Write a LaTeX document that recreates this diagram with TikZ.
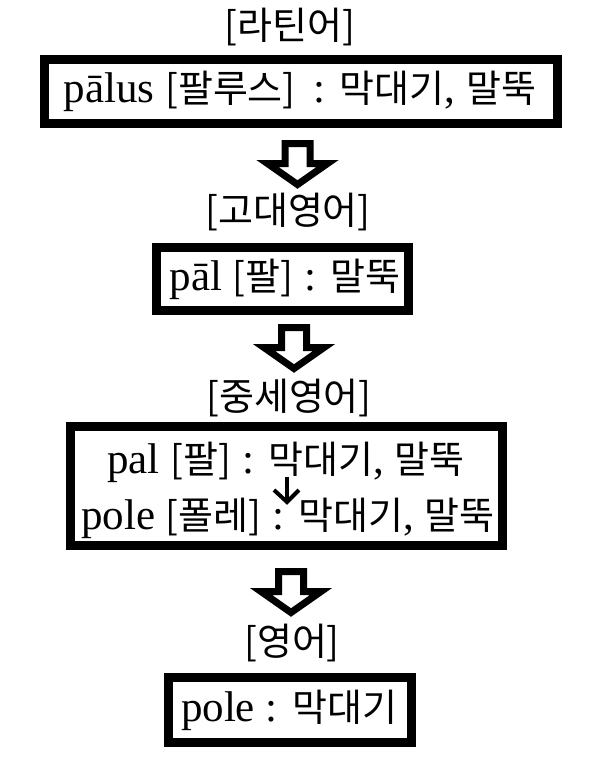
\documentclass[tikz,border=0pt]{standalone}
\usepackage{fontspec}
\usetikzlibrary{calc}
\setmainfont{Liberation Serif}
\newfontfamily\kr{Noto Sans CJK KR}
\newcommand\K[1]{{\kr\fontsize{38}{44}\selectfont #1}}
\begin{document}
\begin{tikzpicture}[x=1pt,y=-1pt,
  stagebox/.style={draw, line width=9pt, inner sep=0pt},
  lbl/.style={inner sep=0pt, font=\fontsize{43}{48}\selectfont},
  blockarr/.style={draw, line width=7pt, line join=miter, fill=white},
  smallarr/.style={draw, line width=4pt, line cap=butt, line join=miter}]
\useasboundingbox[fill=white] (0,0) rectangle (604,780);
% labels
\node[lbl] (l1) at (290,27) {\K{[라틴어]}};
\node[lbl] (l2) at (288,212) {\K{[고대영어]}};
\node[lbl] (l3) at (289,398) {\K{[중세영어]}};
\node[lbl] (l4) at (292,643) {\K{[영어]}};
% boxes
\node[stagebox, minimum width=513pt, minimum height=64pt] (b1) at (301,91.5) {};
\node[lbl] (t1) at (300,91.5) {pālus \K{[팔루스]}\, : \K{막대기}, \K{말뚝}};
\node[stagebox, minimum width=252pt, minimum height=63pt] (b2) at (282.5,279) {};
\node[lbl] (t2) at (285,279) {pāl \K{[팔]} : \K{말뚝}};
\node[stagebox, minimum width=432pt, minimum height=119pt] (b3) at (286.5,486) {};
\node[lbl] (t3a) at (286,462) {pal \K{[팔]} : \K{막대기}, \K{말뚝}};
\node[lbl] (t3b) at (288,518) {pole \K{[폴레]} : \K{막대기}, \K{말뚝}};
\node[stagebox, minimum width=243pt, minimum height=65pt] (b4) at (290,710) {};
\node[lbl] (t4) at (289,710) {pole : \K{막대기}};
% block arrows
\coordinate (a1) at (297.5,143.5);
\coordinate (a2) at (294,327.5);
\coordinate (a3) at (291,571.5);
\foreach \c in {a1,a2,a3}{
  \begin{scope}[shift={(\c)}]
    \draw[blockarr] (-12.5,0) -- (12.5,0) -- (12.5,20) -- (30,20) -- (0,41) -- (-30,20) -- (-12.5,20) -- cycle;
  \end{scope}
}
% small arrow
\coordinate (s1) at (287,477);
\coordinate (s2) at (287,502);
\draw[smallarr] (s1) -- (s2);
\draw[smallarr] ($(s2)+(-13,-12)$) -- (s2) -- ($(s2)+(12,-12)$);
\end{tikzpicture}
\end{document}
